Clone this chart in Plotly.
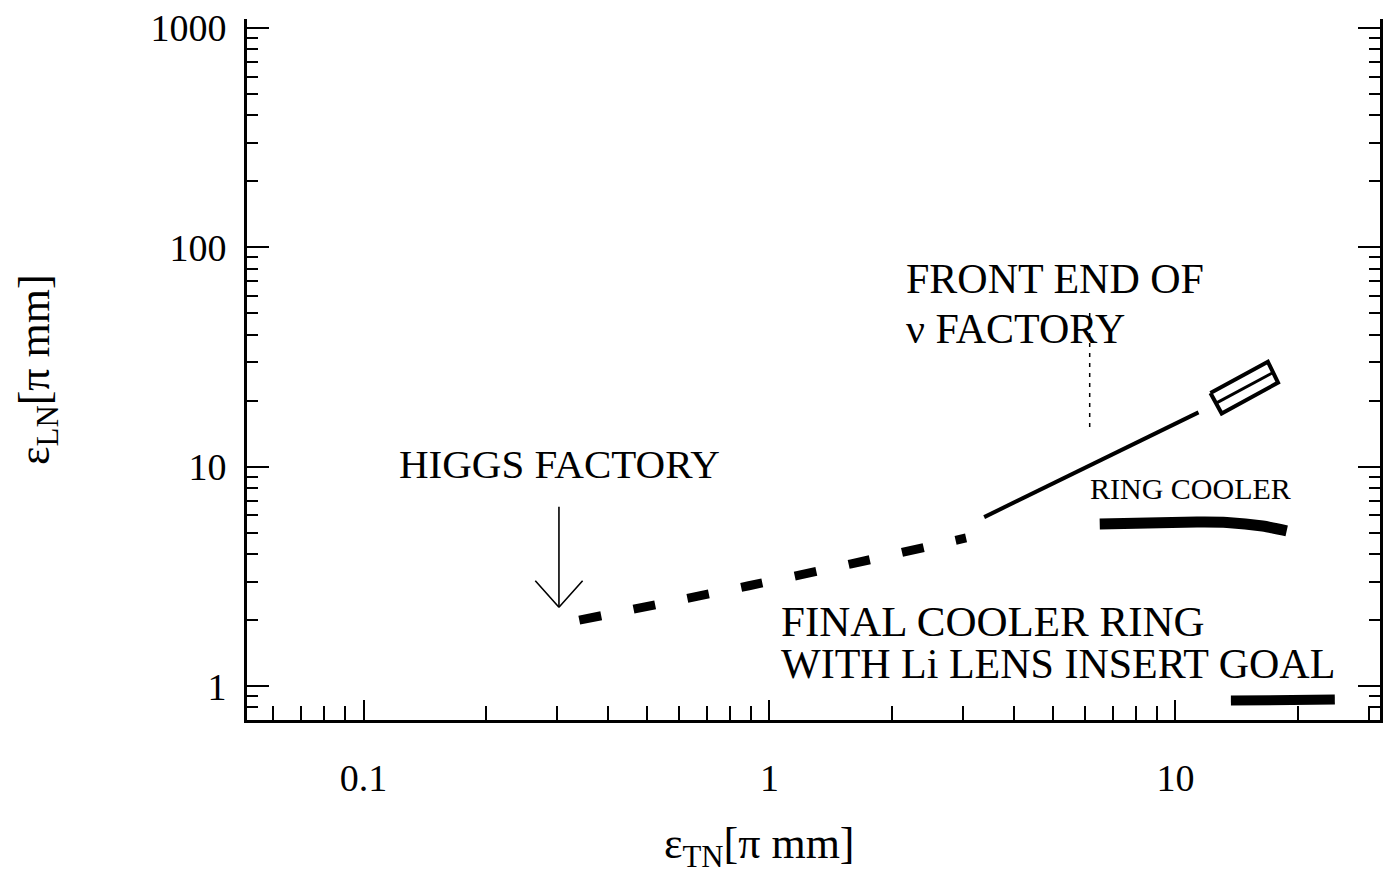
import math
import plotly.graph_objects as go

# Transverse / longitudinal normalized emittances (pi mm) along each cooling stage
higgs_eps_t = [0.34, 0.89, 1.59, 3.05]
higgs_eps_l = [2.0, 2.87, 3.61, 4.74]

front_eps_t = [3.38, 11.4]
front_eps_l = [5.90, 17.7]

# Front end of the neutrino factory: outlined region and its centre line
box_eps_t = [12.2, 16.9, 17.9, 13.0, 12.2]
box_eps_l = [21.7, 30.1, 24.2, 17.5, 21.7]
box_mid_t = [12.6, 17.4]
box_mid_l = [19.5, 26.9]

# Pointer under the neutrino factory label
nu_mark_t = [6.15, 6.15]
nu_mark_l = [15.2, 53.3]

ring_eps_t = [6.51, 8.55, 11.3, 13.4, 16.4, 18.8]
ring_eps_l = [5.48, 5.54, 5.60, 5.58, 5.37, 5.10]

goal_eps_t = [13.7, 24.7]
goal_eps_l = [0.86, 0.87]

# Where the HIGGS FACTORY arrow points
higgs_tip = (0.303, 2.29)

x_major = [0.1, 1, 10]
x_major_text = ["0.1", "1", "10"]
x_minor = [0.06, 0.07, 0.08, 0.09, 0.2, 0.3, 0.4, 0.5, 0.6, 0.7, 0.8, 0.9,
           2, 3, 4, 5, 6, 7, 8, 9, 20, 30]
y_major = [1, 10, 100, 1000]
y_major_text = ["1", "10", "100", "1000"]
y_minor = [0.8, 0.9] + [m * 10 ** e for e in range(0, 3) for m in range(2, 10)]

FONT = "Liberation Serif, Times New Roman, serif"
INK = "black"

fig = go.Figure()

def add_line(xs, ys, width, dash="solid", color=INK):
    fig.add_trace(go.Scatter(x=xs, y=ys, mode="lines", hoverinfo="skip",
                             line=dict(color=color, width=width, dash=dash,
                                       shape="spline", smoothing=0.6)))

add_line(higgs_eps_t, higgs_eps_l, 9, dash="22px,33px")
add_line(front_eps_t, front_eps_l, 4)
fig.add_trace(go.Scatter(x=box_eps_t, y=box_eps_l, mode="lines", hoverinfo="skip",
                         line=dict(color=INK, width=4)))
add_line(box_mid_t, box_mid_l, 3)
add_line(nu_mark_t, nu_mark_l, 1.5, dash="4px,6px")
add_line(ring_eps_t, ring_eps_l, 11)
add_line(goal_eps_t, goal_eps_l, 10)

lg = math.log10
annotations = []

def label(text, x, y, size):
    annotations.append(dict(text=text, x=lg(x), y=lg(y), xref="x", yref="y",
                            xanchor="left", yanchor="middle", showarrow=False,
                            font=dict(family=FONT, size=size, color=INK)))

label("HIGGS FACTORY", 0.121, 10.3, 41)
label("FRONT END OF", 2.14, 71.5, 42)
label("ν FACTORY", 2.14, 42.4, 42)
label("RING COOLER", 6.08, 7.98, 30)
label("FINAL COOLER RING", 1.053, 1.98, 43)
label("WITH Li LENS INSERT GOAL", 1.053, 1.26, 42)

# arrow: shaft plus an open V head
for ax, ay in [(0, -102), (-25, -28), (25, -28)]:
    annotations.append(dict(x=lg(higgs_tip[0]), y=lg(higgs_tip[1]), xref="x", yref="y",
                            ax=ax, ay=ay, axref="pixel", ayref="pixel", text="",
                            showarrow=True, arrowhead=0, arrowwidth=1.6,
                            arrowcolor=INK, standoff=0, startstandoff=0))

# axis titles
annotations.append(dict(text="ε<sub>TN</sub>[π mm]", xref="paper", yref="paper",
                        x=0.452, y=-0.18, xanchor="center", yanchor="middle",
                        showarrow=False, font=dict(family=FONT, size=44, color=INK)))
annotations.append(dict(text="ε<sub>LN</sub>[π mm]", xref="paper", yref="paper",
                        x=-0.185, y=0.5, xanchor="center", yanchor="middle",
                        textangle=-90, showarrow=False,
                        font=dict(family=FONT, size=44, color=INK)))

axis_common = dict(type="log", showgrid=False, zeroline=False, showline=True,
                   linecolor=INK, linewidth=3, ticks="inside", tickcolor=INK,
                   tickwidth=2, tickfont=dict(family=FONT, size=38, color=INK))

fig.update_layout(
    width=1390, height=890,
    margin=dict(l=247, r=7, t=15, b=170),
    paper_bgcolor="white", plot_bgcolor="white",
    showlegend=False,
    annotations=annotations,
    xaxis=dict(**axis_common, range=[-1.287, 1.504], tickmode="array",
               tickvals=x_major, ticktext=x_major_text, ticklen=20,
               ticklabelstandoff=22, mirror=False,
               minor=dict(tickmode="array", tickvals=x_minor, ticks="inside",
                          ticklen=14, tickwidth=2, tickcolor=INK)),
    yaxis=dict(**axis_common, range=[-0.154, 3.041], tickmode="array",
               tickvals=y_major, ticktext=y_major_text, ticklen=22,
               ticklabelstandoff=10, mirror="ticks",
               minor=dict(tickmode="array", tickvals=y_minor, ticks="inside",
                          ticklen=11, tickwidth=2, tickcolor=INK)),
)

fig.write_html("out.html")
